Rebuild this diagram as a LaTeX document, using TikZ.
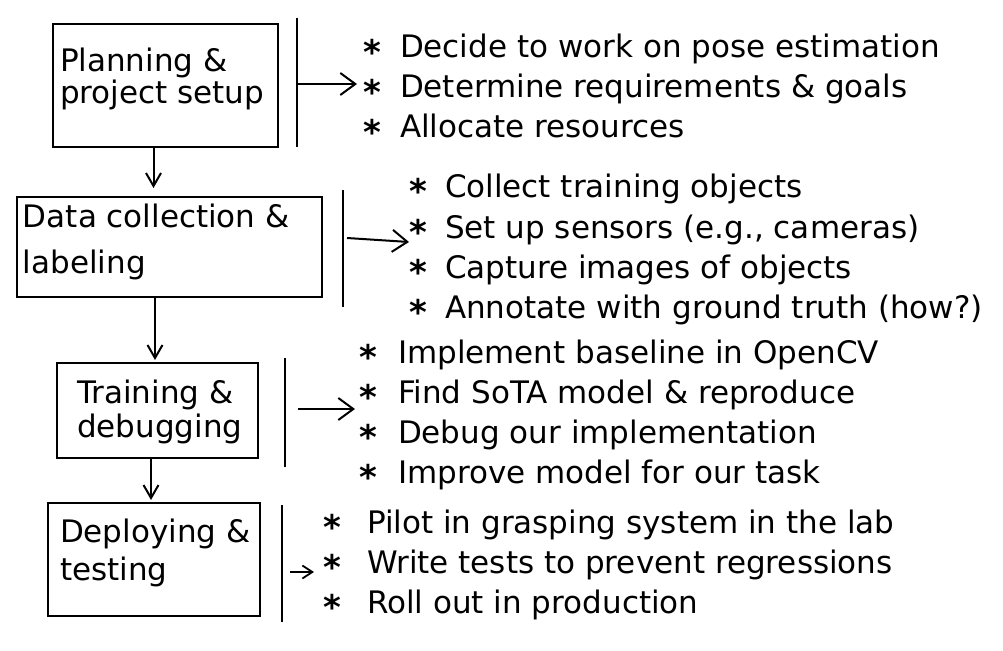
\documentclass[tikz,border=0pt]{standalone}
\usepackage{fontspec}
\setmainfont{DejaVu Sans}
\usetikzlibrary{arrows.meta}
\newcommand\bul[5]{%
  \node[star] (#1s) at (#2,{#4-19}) {*};
  \node[txt] (#1) at (#3,#4) {#5};}
\begin{document}
\begin{tikzpicture}[x=1pt,y=-1pt,
  every node/.style={inner sep=0pt, outer sep=0pt},
  box/.style={draw, line width=2.5pt, anchor=north west},
  bar/.style={line width=2.5pt},
  conn/.style={line width=2pt, -{Straight Barb[length=15pt,width=22pt,line width=2pt]}},
  vconn/.style={line width=2pt, -{Straight Barb[length=13pt,width=15pt,line width=2pt]}},
  txt/.style={anchor=base west, font=\fontsize{31}{36}\selectfont},
  star/.style={anchor=north, font=\fontsize{34}{36}\selectfont\bfseries}]
\useasboundingbox (0,0) rectangle (1003,650);

% boxes
\node[box, minimum width=225pt, minimum height=123pt] (b1) at (53,24) {};
\node[box, minimum width=305pt, minimum height=100pt] (b2) at (17,197) {};
\node[box, minimum width=201pt, minimum height=95pt] (b3) at (57,363) {};
\node[box, minimum width=212pt, minimum height=113pt] (b4) at (48,503) {};

% box texts
\node[txt] (t1a) at (60,72) {Planning \&};
\node[txt] (t1b) at (60,104) {project setup};
\node[txt] (t2a) at (23,227) {Data collection \&};
\node[txt] (t2b) at (23,273) {labeling};
\node[txt] (t3a) at (77,403) {Training \&};
\node[txt] (t3b) at (77,437) {debugging};
\node[txt] (t4a) at (60,542) {Deploying \&};
\node[txt] (t4b) at (60,580) {testing};

% vertical flow arrows
\draw[vconn, shorten >=9pt] ([xshift=-12pt]b1.south) -- ([xshift=-16pt]b2.north);
\draw[vconn, shorten >=3pt] ([xshift=-14.5pt]b2.south) -- ([xshift=-2.5pt]b3.north);
\draw[vconn, shorten >=3pt] ([xshift=-6.5pt]b3.south) -- ([xshift=-3pt]b4.north);

% bars
\coordinate (v1t) at (297,18);  \coordinate (v1b) at (297,147);
\coordinate (v2t) at (343,190); \coordinate (v2b) at (343,307);
\coordinate (v3t) at (285,358); \coordinate (v3b) at (285,467);
\coordinate (v4t) at (282,505); \coordinate (v4b) at (282,622);
\draw[bar] (v1t) -- (v1b);
\draw[bar] (v2t) -- (v2b);
\draw[bar] (v3t) -- (v3b);
\draw[bar] (v4t) -- (v4b);

% horizontal arrows
\coordinate (a1s) at (298,84);  \coordinate (a1e) at (357,84);
\coordinate (a2s) at (347,238); \coordinate (a2e) at (409,242);
\coordinate (a3s) at (298,409); \coordinate (a3e) at (355,409);
\coordinate (a4s) at (290,572); \coordinate (a4e) at (314,572);
\draw[conn] (a1s) -- (a1e);
\draw[conn] (a2s) -- (a2e);
\draw[conn] (a3s) -- (a3e);
\draw[line width=1.8pt, -{Straight Barb[length=10pt,width=13pt,line width=1.8pt]}] (a4s) -- (a4e);

% lists
\bul{l11}{372}{400}{58}{Decide to work on pose estimation}
\bul{l12}{372}{400}{98}{Determine requirements \& goals}
\bul{l13}{372}{400}{138}{Allocate resources}

\bul{l21}{418}{445}{197}{Collect training objects}
\bul{l22}{418}{445}{238}{Set up sensors (e.g., cameras)}
\bul{l23}{418}{445}{278}{Capture images of objects}
\bul{l24}{418}{445}{318}{Annotate with ground truth (how?)}

\bul{l31}{368}{398}{363}{Implement baseline in OpenCV}
\bul{l32}{368}{398}{403}{Find SoTA model \& reproduce}
\bul{l33}{368}{398}{443}{Debug our implementation}
\bul{l34}{368}{398}{483}{Improve model for our task}

\bul{l41}{332}{367}{533}{Pilot in grasping system in the lab}
\bul{l42}{332}{367}{573}{Write tests to prevent regressions}
\bul{l43}{332}{367}{613}{Roll out in production}
\end{tikzpicture}
\end{document}
